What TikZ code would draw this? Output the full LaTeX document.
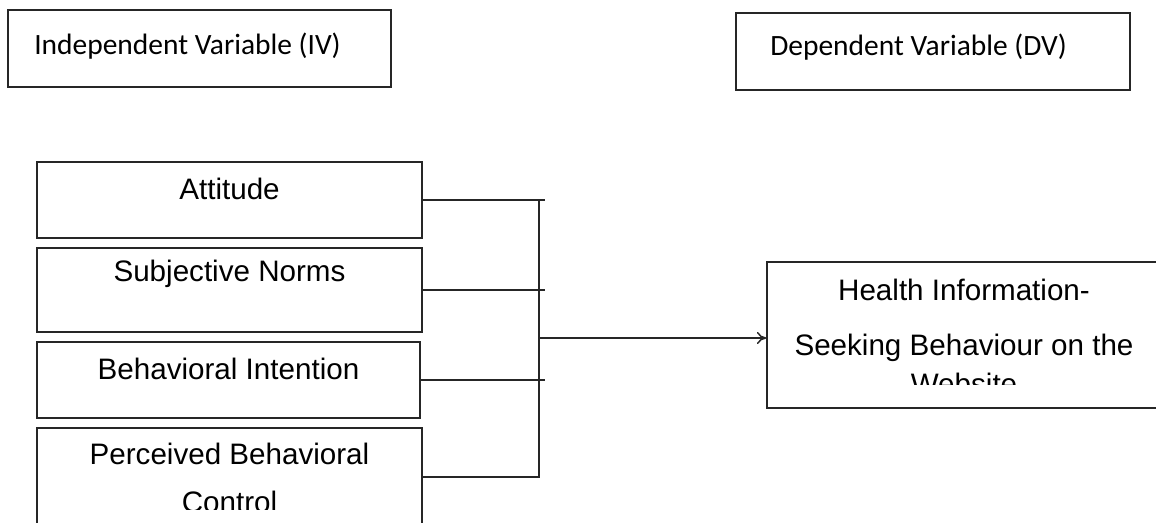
\documentclass[tikz,border=0pt]{standalone}
\usepackage{fontspec}
\setmainfont{Liberation Sans}
\newfontfamily\hdrfont{Carlito}
\usetikzlibrary{calc,positioning,arrows.meta}

\tikzset{
  varbox/.style={draw=black!85, line width=1.1pt, inner sep=0pt},
  hdrtext/.style={font=\hdrfont\fontsize{22.1}{26}\selectfont, anchor=base west, inner sep=0pt},
  boxtext/.style={font=\fontsize{22.2}{36}\selectfont, align=center, inner sep=0pt},
  link/.style={line width=1.1pt, black!85}
}

\begin{document}
\begin{tikzpicture}[x=0.75pt,y=-0.75pt]
  \useasboundingbox (0,0) rectangle (1156,522);
  % header boxes
  \node[varbox, minimum width=383*0.75pt, minimum height=77*0.75pt] (ivbox) at (199.5,48.5) {};
  \node[hdrtext] (ivlbl) at (34,54) {Independent Variable (IV)};
  \node[varbox, minimum width=394*0.75pt, minimum height=77*0.75pt] (dvbox) at (933,51.5) {};
  \node[hdrtext] (dvlbl) at (770,55) {Dependent Variable (DV)};

  % independent variables
  \node[varbox, minimum width=385*0.75pt, minimum height=76*0.75pt] (att) at (229.5,200) {};
  \node[boxtext] (attlbl) at (229.5,189) {Attitude};
  \node[varbox, minimum width=385*0.75pt, minimum height=84*0.75pt] (sn) at (229.5,290) {};
  \node[boxtext] (snlbl) at (229.5,274) {Subjective Norms};
  \node[varbox, minimum width=383*0.75pt, minimum height=76*0.75pt] (bi) at (228.5,380) {};
  \node[boxtext] (bilbl) at (228.5,369) {Behavioral Intention};
  \node[varbox, minimum width=385*0.75pt, minimum height=98*0.75pt] (pbc) at (229.5,477) {};
  \begin{scope}
    \clip (38,430) rectangle (421,509);
    \node[boxtext, anchor=north] (pbclbl) at (229.5,443) {Perceived Behavioral\\Control};
  \end{scope}

  % dependent variable
  \node[varbox, minimum width=394*0.75pt, minimum height=146*0.75pt] (hisb) at (964,335) {};
  \begin{scope}
    \clip (768,263) rectangle (1160,384);
    \node[boxtext, anchor=north, font=\fontsize{22.2}{41}\selectfont] (hisblbl) at (964,279)
      {Health Information-\\Seeking Behaviour on the\\[-12pt]Website};
  \end{scope}

  % connectors
  \coordinate (bus) at (539,338);
  \coordinate (stub) at (545,338);
  \draw[link] (att.east) -- (att.east -| stub);
  \draw[link] (sn.east) -- (sn.east -| stub);
  \draw[link] (bi.east) -- (bi.east -| stub);
  \draw[link] (att.east -| bus) -- (pbc.east -| bus) -- (pbc.east);
  \draw[link,-{To[length=7pt,width=9pt]}] (bus) -- (bus -| hisb.west);
\end{tikzpicture}
\end{document}
